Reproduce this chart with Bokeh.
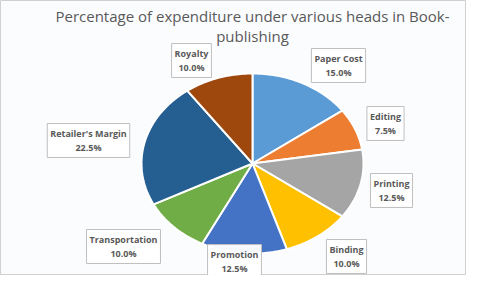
import math
from bokeh.plotting import figure
from bokeh.models import Range1d, Label, ColumnDataSource
from bokeh.embed import file_html
from bokeh.resources import INLINE

# ---- data ----
categories = ["Paper Cost", "Editing", "Printing", "Binding", "Promotion",
              "Transportation", "Retailer's Margin", "Royalty"]
values = [15.0, 7.5, 12.5, 10.0, 12.5, 10.0, 22.5, 10.0]
colors = ["#5B9BD5", "#ED7D31", "#A5A5A5", "#FFC000", "#4472C4",
          "#70AD47", "#255E91", "#9E480E"]
title_lines = ["Percentage of expenditure under various heads in Book-", "publishing"]

# ---- layout (reference pixel coordinates) ----
label_pos = [(338, 65), (385, 123), (391, 190), (346, 256), (234, 261),
             (123, 246), (88, 140), (191, 60)]
cx, cy, rx, ry = 252, 163, 111, 90

W, H = 466, 275
p = figure(width=W, height=H, output_backend="svg", toolbar_location=None,
           x_range=Range1d(0, W), y_range=Range1d(H, 0),
           min_border=0)
p.axis.visible = False
p.xgrid.visible = False
p.ygrid.visible = False
p.background_fill_color = "#fbfcfe"
p.border_fill_color = "#fbfcfe"
p.outline_line_color = "#d0d0d0"

# build elliptical wedges from the values
total = sum(values)
xs, ys = [], []
start = 0.0
for v in values:
    a0 = start / total * 2 * math.pi
    a1 = (start + v) / total * 2 * math.pi
    n = max(8, int(v * 3))
    px = [cx]
    py = [cy]
    for i in range(n + 1):
        t = a0 + (a1 - a0) * i / n
        px.append(cx + rx * math.sin(t))
        py.append(cy - ry * math.cos(t))
    xs.append(px)
    ys.append(py)
    start += v

src = ColumnDataSource(dict(xs=xs, ys=ys, color=colors, cat=categories, val=values))
p.patches("xs", "ys", source=src, fill_color="color", line_color="white", line_width=2)

# data labels
for cat, v, (lx, ly) in zip(categories, values, label_pos):
    p.add_layout(Label(x=lx, y=ly, text=f"{cat}\n{v:.1f}%",
                       text_align="center", text_baseline="middle",
                       text_font="Open Sans", text_font_size="9px",
                       text_font_style="bold", text_color="#595959",
                       text_line_height=1.15,
                       background_fill_color="white", background_fill_alpha=0.95,
                       border_line_color="#bfbfbf", border_line_width=1,
                       padding=3))

# title
for i, t in enumerate(title_lines):
    p.add_layout(Label(x=252, y=15 + 20 * i, text=t, text_align="center",
                       text_baseline="middle", text_font="Open Sans",
                       text_font_size="15px", text_color="#595959"))

open("out.html", "w").write(file_html(p, INLINE))
